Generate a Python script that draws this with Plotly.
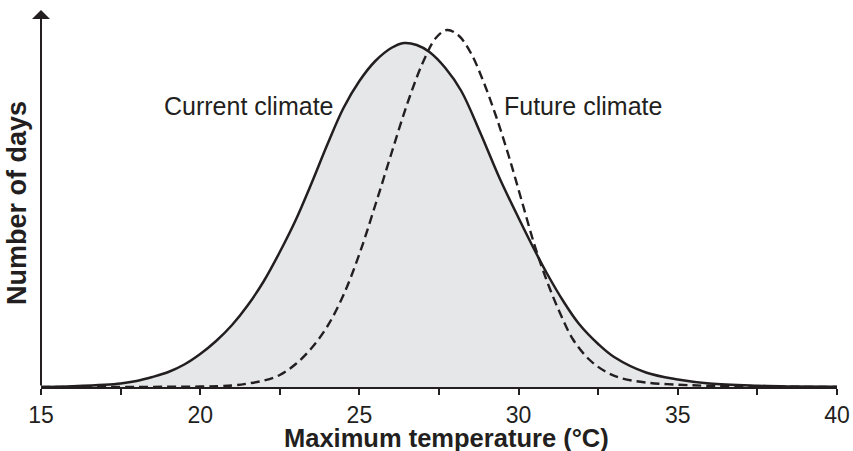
import plotly.graph_objects as go

# Current climate distribution (relative number of days)
current_temp = [15, 16, 17, 17.5, 18, 18.5, 19, 19.5, 20, 20.5, 21, 21.5, 22, 22.5, 23, 23.5,
                24, 24.5, 25, 25.5, 26, 26.4, 26.8, 27.2, 27.7, 28.2, 28.8, 29.4, 30, 30.5,
                30.9, 31.4, 31.9, 32.5, 33, 34, 35, 36, 37.5, 38.5, 40]
current_days = [0, 0.8, 2.2, 3.5, 6, 10, 15, 22.5, 33, 46, 62, 82, 106, 135, 167, 204,
                243, 279, 306, 326, 339, 344, 342, 335, 319, 296, 254, 209, 169, 137,
                113, 86, 63, 43, 30, 14.5, 7.5, 3.5, 1.3, 0.6, 0.2]

# Future climate distribution (relative number of days)
future_temp = [15, 18, 20, 21, 21.5, 22, 22.5, 23, 23.5, 24, 24.5, 25, 25.5, 26, 26.5, 27,
               27.4, 27.75, 28.1, 28.5, 28.9, 29.3, 29.7, 30.1, 30.5, 30.9, 31.3, 31.7,
               32.2, 32.7, 33.2, 34, 35, 36, 37.5, 40]
future_days = [0, 0.1, 0.5, 1.5, 3.5, 6.5, 12, 23, 39, 61, 92, 133, 182, 233, 283, 325,
               349, 357, 352, 334, 305, 270, 230, 186, 142, 105, 74, 48,
               28, 16, 9, 4.5, 2.3, 1.2, 0.5, 0]

tick_vals = [15, 17.5, 20, 22.5, 25, 27.5, 30, 32.5, 35, 37.5, 40]
tick_text = ["15", "", "20", "", "25", "", "30", "", "35", "", "40"]

INK = "#231f20"
FONT = "Liberation Sans, Arial, Helvetica, sans-serif"

fig = go.Figure()
fig.add_trace(go.Scatter(
    x=current_temp, y=current_days, mode="lines",
    line=dict(color=INK, width=2.5, shape="spline", smoothing=1.0),
    fill="tozeroy", fillcolor="#e6e7e8", hoverinfo="skip", showlegend=False))
fig.add_trace(go.Scatter(
    x=future_temp, y=future_days, mode="lines",
    line=dict(color=INK, width=2.4, dash="9px,5px", shape="spline", smoothing=1.0),
    hoverinfo="skip", showlegend=False))

YMAX = 377
fig.update_layout(
    width=853, height=451,
    margin=dict(l=41, r=16, t=10, b=64, autoexpand=False),
    paper_bgcolor="white", plot_bgcolor="white",
    font=dict(family=FONT, color=INK),
    xaxis=dict(range=[15, 40], showgrid=False, zeroline=False, automargin=False,
               showline=True, linecolor=INK, linewidth=2,
               ticks="outside", ticklen=6, tickwidth=2, tickcolor=INK,
               tickvals=tick_vals, ticktext=tick_text,
               tickfont=dict(size=23, family=FONT, color=INK)),
    yaxis=dict(range=[0, YMAX], showgrid=False, zeroline=False, automargin=False,
               showline=False, showticklabels=False, ticks=""),
)

# Y axis as an arrow
fig.add_annotation(x=15, y=YMAX, ax=15, ay=0, xref="x", yref="y", axref="x", ayref="y",
                   text="", showarrow=True, arrowhead=1, arrowsize=1.5, arrowwidth=2,
                   arrowcolor=INK, standoff=0)

# Curve labels
fig.add_annotation(x=24.25, y=281, xref="x", yref="y", text="Current climate",
                   showarrow=False, xanchor="right", yanchor="middle",
                   font=dict(size=25, family=FONT, color=INK))
fig.add_annotation(x=29.47, y=281, xref="x", yref="y", text="Future climate",
                   showarrow=False, xanchor="left", yanchor="middle",
                   font=dict(size=25, family=FONT, color=INK))

# Axis titles
fig.add_annotation(x=27.75, y=0, xref="x", yref="paper", yshift=-51,
                   text="<b>Maximum temperature (°C)</b>", showarrow=False,
                   xanchor="center", yanchor="middle",
                   font=dict(size=25.5, family=FONT, color=INK))
fig.add_annotation(x=0, y=0.488, xref="paper", yref="paper", xshift=-24,
                   text="<b>Number of days</b>", showarrow=False, textangle=-90,
                   xanchor="center", yanchor="middle",
                   font=dict(size=27, family=FONT, color=INK))

fig.write_html("out.html",
               config={"displayModeBar": False, "staticPlot": True},
               post_script="document.body.style.margin='0';"
                           "document.body.style.overflow='hidden';")
